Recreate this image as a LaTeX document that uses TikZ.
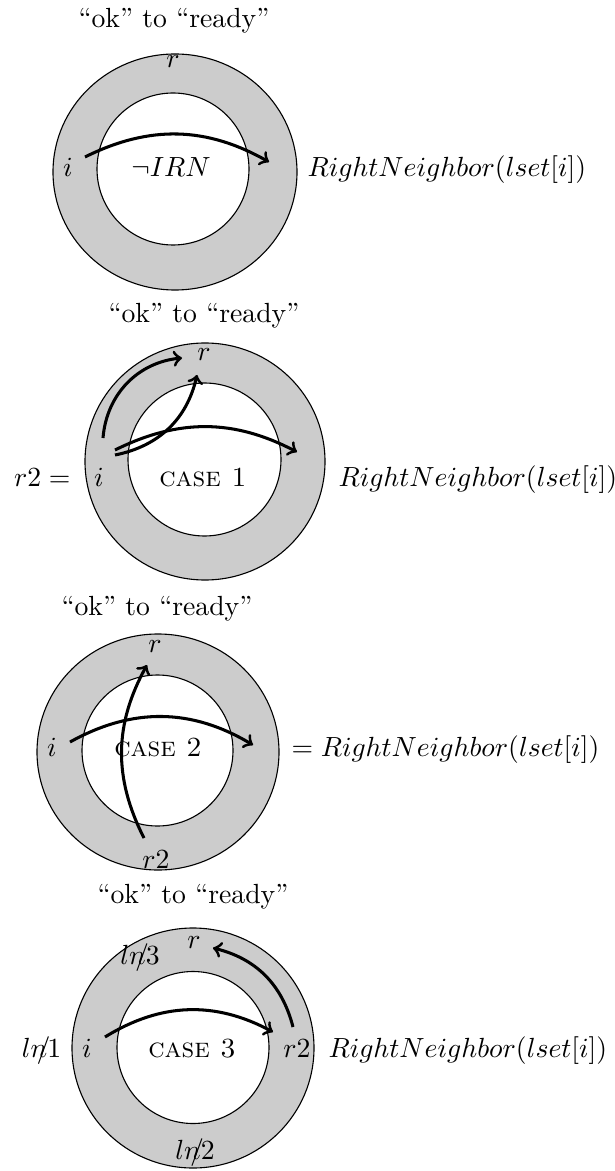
\documentclass[tikz,border=0pt]{standalone}
\begin{document}
\begin{tikzpicture}[x=0.361pt,y=0.361pt,
  ringout/.style={draw,fill=gray!40,line width=0.4pt},
  ringin/.style={draw,fill=white,line width=0.4pt},
  flow/.style={->,line width=1.1pt},
  lbl/.style={inner sep=0pt},
  rowlbl/.style={inner sep=0pt,anchor=base},
  rowright/.style={inner sep=0pt,anchor=base west},
  title/.style={inner sep=0pt}]
\useasboundingbox (0,0) rectangle (614,-1171);
\newcommand{\lnnot}[1]{$ln\mkern-7mu/\mkern-2mu#1$}

% ---------- panel 1 ----------
\node[title] (t1) at (174,-21) {``ok'' to ``ready''};
\draw[ringout] (175,-172) ellipse [x radius=122, y radius=118];
\draw[ringin] (173,-169) circle [radius=76];
\node[lbl] (p1r) at (173,-62) {$r$};
\node[rowlbl] (p1i) at (68,-177) {$i$};
\node[rowlbl] (p1c) at (171,-177) {$\neg IRN$};
\node[rowright] (p1rn) at (307,-177) {$RightNeighbor(lset[i])$};
\coordinate (p1a) at (85,-157);
\coordinate (p1b) at (269,-162);
\draw[flow] (p1a) to[bend left=28] (p1b);

% ---------- panel 2 ----------
\node[title] (t2) at (204,-316) {``ok'' to ``ready''};
\draw[ringout] (205,-461.5) ellipse [x radius=120, y radius=118.5];
\draw[ringin] (204.5,-459.5) circle [radius=76.5];
\node[lbl] (p2r) at (204,-355) {$r$};
\node[inner sep=0pt,anchor=base east] (p2eq) at (71,-486) {$r2=$};
\node[rowlbl] (p2i) at (99,-486) {$i$};
\node[rowlbl] (p2c) at (203,-486) {\textsc{case 1}};
\node[rowright] (p2rn) at (338,-486) {$RightNeighbor(lset[i])$};
\coordinate (p2a1) at (103,-438);
\coordinate (p2a2) at (182,-358);
\coordinate (p2b1) at (115,-455);
\coordinate (p2b2) at (197,-375);
\coordinate (p2c1) at (115,-450);
\coordinate (p2c2) at (297,-452);
\draw[flow] (p2a1) to[bend left=40] (p2a2);
\draw[flow] (p2b1) to[bend right=33] (p2b2);
\draw[flow] (p2c1) to[bend left=27] (p2c2);

% ---------- panel 3 ----------
\node[title] (t3) at (157,-609) {``ok'' to ``ready''};
\draw[ringout] (158,-752) ellipse [x radius=121, y radius=118];
\draw[ringin] (157.5,-750.5) circle [radius=75.5];
\node[lbl] (p3r) at (155,-647) {$r$};
\node[lbl] (p3r2) at (156,-860) {$r2$};
\node[rowlbl] (p3i) at (52,-756) {$i$};
\node[rowlbl] (p3c) at (158,-756) {\textsc{case 2}};
\node[rowright] (p3rn) at (291,-756) {$= RightNeighbor(lset[i])$};
\coordinate (p3h1) at (70,-742);
\coordinate (p3h2) at (253,-745);
\coordinate (p3v1) at (144,-838);
\coordinate (p3v2) at (147,-665);
\draw[flow] (p3h1) to[bend left=30] (p3h2);
\draw[flow] (p3v1) to[bend left=28] (p3v2);

% ---------- panel 4 ----------
\node[title] (t4) at (193,-897) {``ok'' to ``ready''};
\draw[ringout] (193,-1048) ellipse [x radius=121, y radius=120];
\draw[ringin] (193,-1047.5) circle [radius=76];
\node[lbl] (p4r) at (194,-943) {$r$};
\node[lbl] (p4l3) at (140,-958) {\lnnot{3}};
\node[rowlbl] (p4l1) at (41.5,-1057) {\lnnot{1}};
\node[rowlbl] (p4i) at (87,-1057) {$i$};
\node[rowlbl] (p4c) at (192,-1057) {\textsc{case 3}};
\node[rowlbl] (p4r2) at (297,-1057) {$r2$};
\node[rowright] (p4rn) at (328,-1057) {$RightNeighbor(lset[i])$};
\node[lbl] (p4l2) at (195,-1153) {\lnnot{2}};
\coordinate (p4a1) at (105,-1037);
\coordinate (p4a2) at (273,-1032);
\coordinate (p4b1) at (293,-1027);
\coordinate (p4b2) at (213,-948);
\draw[flow] (p4a1) to[bend left=30] (p4a2);
\draw[flow] (p4b1) to[bend right=31] (p4b2);
\end{tikzpicture}
\end{document}
